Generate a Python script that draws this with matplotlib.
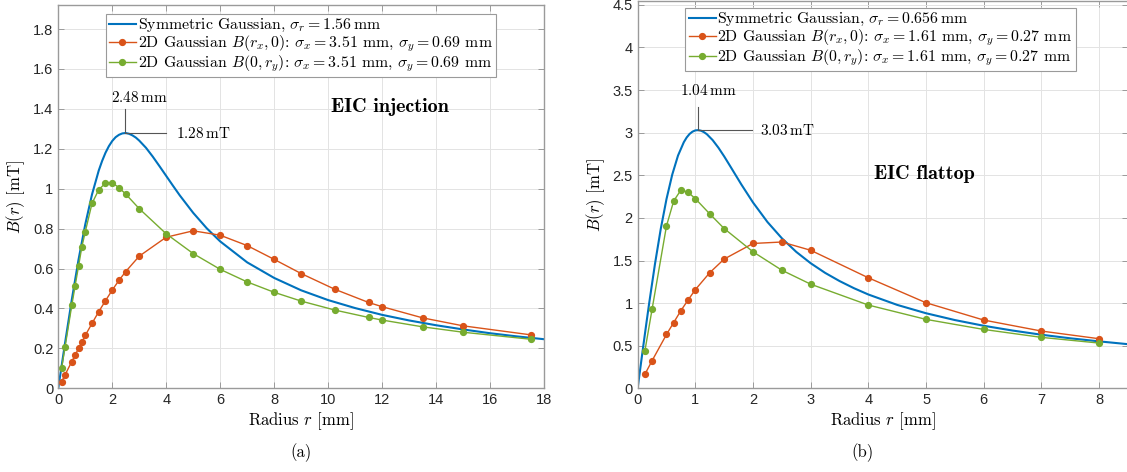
import matplotlib
matplotlib.use('Agg')
import matplotlib.pyplot as plt
import numpy as np
from matplotlib.ticker import FormatStrFormatter

plt.rcParams['mathtext.fontset'] = 'cm'
plt.rcParams['font.family'] = 'Liberation Sans'
plt.rcParams['axes.formatter.use_mathtext'] = True

# ---- data ----
# (a) EIC injection
r_sym_a = [0, 0.25, 0.5, 0.75, 1.0, 1.25, 1.5, 1.625, 1.75, 1.875, 2.0, 2.125, 2.25, 2.375,
           2.5, 2.625, 2.75, 2.875, 3.0, 3.25, 3.5, 3.75, 4.0, 4.25, 4.5, 5.0, 5.5, 6, 7, 8,
           9, 10, 11, 12, 13, 14, 15, 16, 17, 18]
B_sym_a = [0, 0.226, 0.443, 0.644, 0.821, 0.971, 1.091, 1.139, 1.180, 1.213, 1.239, 1.258,
           1.270, 1.277, 1.279, 1.275, 1.267, 1.256, 1.241, 1.205, 1.161, 1.113, 1.064, 1.015,
           0.967, 0.879, 0.802, 0.736, 0.631, 0.553, 0.491, 0.442, 0.402, 0.368, 0.340, 0.316,
           0.295, 0.276, 0.260, 0.246]
r_2d_a = [0.125, 0.25, 0.5, 0.625, 0.75, 0.875, 1.0, 1.25, 1.5, 1.75, 2.0, 2.25, 2.5, 3,
          4, 5, 6, 7, 8, 9, 10.25, 11.5, 12, 13.5, 15, 17.5]
Bx_a = [0.034, 0.067, 0.134, 0.166, 0.200, 0.231, 0.265, 0.325, 0.384, 0.439, 0.492, 0.541,
        0.585, 0.662, 0.757, 0.789, 0.767, 0.715, 0.646, 0.575, 0.496, 0.430, 0.409, 0.353,
        0.313, 0.268]
By_a = [0.102, 0.206, 0.415, 0.514, 0.611, 0.709, 0.784, 0.926, 0.995, 1.028, 1.030, 1.005,
        0.973, 0.900, 0.774, 0.675, 0.596, 0.533, 0.481, 0.437, 0.392, 0.355, 0.342, 0.308,
        0.281, 0.246]

# (b) EIC flattop
r_sym_b = [0, 0.05, 0.1, 0.15, 0.2, 0.3, 0.4, 0.5, 0.6, 0.7, 0.8, 0.85, 0.9, 0.95, 1.0, 1.05,
           1.1, 1.15, 1.2, 1.3, 1.4, 1.5, 1.6, 1.8, 2.0, 2.25, 2.5, 2.75, 3.0, 3.25, 3.5, 3.75,
           4.0, 4.5, 5.0, 5.5, 6.0, 6.5, 7.0, 7.5, 8.0, 8.5]
B_sym_b = [0, 0.256, 0.509, 0.758, 1.000, 1.458, 1.869, 2.221, 2.509, 2.732, 2.888, 2.944,
           2.985, 3.012, 3.027, 3.030, 3.023, 3.006, 2.982, 2.913, 2.824, 2.722, 2.612, 2.390,
           2.181, 1.952, 1.761, 1.601, 1.468, 1.355, 1.259, 1.175, 1.101, 0.979, 0.881, 0.801,
           0.734, 0.678, 0.629, 0.587, 0.551, 0.518]
r_2d_b = [0.125, 0.25, 0.5, 0.625, 0.75, 0.875, 1.0, 1.25, 1.5, 2, 2.5, 3, 4, 5, 6, 7, 8]
Bx_b = [0.164, 0.324, 0.632, 0.772, 0.912, 1.037, 1.158, 1.357, 1.517, 1.700, 1.717, 1.620,
        1.297, 1.004, 0.801, 0.672, 0.582]
By_b = [0.437, 0.928, 1.906, 2.199, 2.327, 2.300, 2.226, 2.047, 1.875, 1.602, 1.386, 1.222,
        0.977, 0.809, 0.691, 0.598, 0.531]

peak_r = [2.48, 1.04]
peak_B = [1.28, 3.03]

labels_a = [r'Symmetric Gaussian, $\sigma_r=1.56\,\mathrm{mm}$',
            r'2D Gaussian $B(r_x,0)$: $\sigma_x=3.51$ mm, $\sigma_y=0.69$ mm',
            r'2D Gaussian $B(0,r_y)$: $\sigma_x=3.51$ mm, $\sigma_y=0.69$ mm']
labels_b = [r'Symmetric Gaussian, $\sigma_r=0.656\,\mathrm{mm}$',
            r'2D Gaussian $B(r_x,0)$: $\sigma_x=1.61$ mm, $\sigma_y=0.27$ mm',
            r'2D Gaussian $B(0,r_y)$: $\sigma_x=1.61$ mm, $\sigma_y=0.27$ mm']

BLUE = '#0072BD'
RED = '#D95319'
GREEN = '#77AC30'

fig = plt.figure(figsize=(11.27, 4.72), dpi=100)
ax1 = fig.add_axes([0.0517, 0.1773, 0.431, 0.812])
ax2 = fig.add_axes([0.5658, 0.1773, 0.435, 0.8205])


def style(ax, xlim, ylim, xstep, ystep):
    ax.set_xlim(*xlim)
    ax.set_ylim(*ylim)
    ax.set_xticks(np.arange(xlim[0], xlim[1] + 1e-9, xstep))
    ax.set_yticks(np.arange(0, ylim[1], ystep))
    ax.xaxis.set_major_formatter(FormatStrFormatter('%g'))
    ax.yaxis.set_major_formatter(FormatStrFormatter('%g'))
    ax.grid(True, color='#e3e3e3', linewidth=0.7)
    ax.set_axisbelow(True)
    ax.tick_params(direction='in', length=4, width=0.7, colors='#9a9a9a',
                   labelcolor='#262626', labelsize=10.5, top=True, right=True)
    for s in ax.spines.values():
        s.set_color('#9a9a9a')
        s.set_linewidth(1.0)
    ax.set_xlabel(r'Radius $r$ [mm]', family='cmr10', fontsize=12, labelpad=2)
    ax.set_ylabel(r'$B(r)$ [mT]', family='cmr10', fontsize=12, labelpad=4)


def draw(ax, r_sym, B_sym, r_2d, Bx, By, labels):
    ax.plot(r_sym, B_sym, color=BLUE, linewidth=1.5, label=labels[0])
    ax.plot(r_2d, Bx, color=RED, linewidth=1.0, marker='o', markersize=4.2, label=labels[1])
    ax.plot(r_2d, By, color=GREEN, linewidth=1.0, marker='o', markersize=4.2, label=labels[2])


draw(ax1, r_sym_a, B_sym_a, r_2d_a, Bx_a, By_a, labels_a)
draw(ax2, r_sym_b, B_sym_b, r_2d_b, Bx_b, By_b, labels_b)
style(ax1, (0, 18), (0, 1.92), 2, 0.2)
style(ax2, (0, 8.5), (0, 4.545), 1, 0.5)
ax2.set_xticks(range(0, 9))

for ax, anchor in [(ax1, (0.0976, 0.9765)), (ax2, (0.0975, 0.982))]:
    leg = ax.legend(loc='upper left', bbox_to_anchor=anchor, borderaxespad=0,
                    prop={'family': 'cmr10', 'size': 11.4}, fancybox=False,
                    edgecolor='#9a9a9a', framealpha=1, handlelength=1.7,
                    handletextpad=0.12, borderpad=0.2, labelspacing=-0.05)
    leg.get_frame().set_linewidth(0.8)

# peak markers
gray = '#555555'
ax1.plot([peak_r[0], peak_r[0]], [peak_B[0], 1.40], color=gray, linewidth=0.8)
ax1.plot([peak_r[0], 3.99], [peak_B[0], peak_B[0]], color=gray, linewidth=0.8)
ax1.text(1.97, 1.455, r'$2.48\,\mathrm{mm}$', fontsize=11, ha='left', va='center')
ax1.text(4.36, 1.277, r'$1.28\,\mathrm{mT}$', fontsize=11, ha='left', va='center')
ax1.text(12.3, 1.407, 'EIC injection', family='cmb10', fontsize=14.5, ha='center', va='center')

ax2.plot([peak_r[1], peak_r[1]], [peak_B[1], 3.30], color=gray, linewidth=0.8)
ax2.plot([peak_r[1], 1.99], [peak_B[1], peak_B[1]], color=gray, linewidth=0.8)
ax2.text(0.74, 3.50, r'$1.04\,\mathrm{mm}$', fontsize=11, ha='left', va='center')
ax2.text(2.12, 3.03, r'$3.03\,\mathrm{mT}$', fontsize=11, ha='left', va='center')
ax2.text(4.97, 2.51, 'EIC flattop', family='cmb10', fontsize=14.5, ha='center', va='center')

fig.text(0.267, 0.041, '(a)', family='cmr10', fontsize=12, ha='center', va='center')
fig.text(0.765, 0.041, '(b)', family='cmr10', fontsize=12, ha='center', va='center')

fig.savefig('out.png', dpi=100)
